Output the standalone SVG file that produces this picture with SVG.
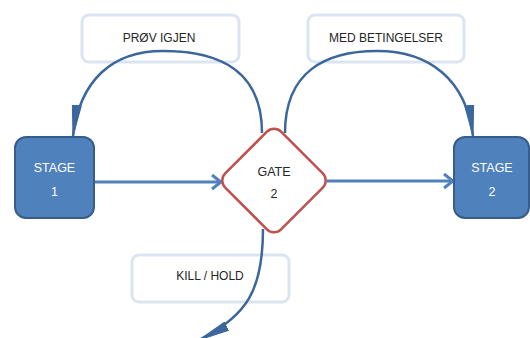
<svg xmlns="http://www.w3.org/2000/svg" width="530" height="338" viewBox="0 0 530 338">
<style>
.lbl{fill:#fff;stroke:#dbe5f1;stroke-width:3}
.lt{font-family:"Liberation Sans",Arial,sans-serif;font-size:12px;fill:#262626;text-anchor:middle}
.st{fill:#4f81bd;stroke:#385d8a;stroke-width:2}
.stt{font-family:"Liberation Sans",Arial,sans-serif;font-size:12.5px;fill:#fff;text-anchor:middle}
.gt{font-family:"Liberation Sans",Arial,sans-serif;font-size:12.5px;fill:#262626;text-anchor:middle}
.ln{fill:none;stroke:#4f81bd;stroke-width:3}
.cv{fill:none;stroke:#3b679c;stroke-width:2.5}
</style>
<defs>
<marker id="chev" markerUnits="userSpaceOnUse" markerWidth="20" markerHeight="20" refX="12" refY="8" orient="auto">
<polyline points="3,1 12,8 3,15" fill="none" stroke="#4f81bd" stroke-width="3"/>
</marker>
<marker id="tri" markerUnits="userSpaceOnUse" markerWidth="34" markerHeight="12" refX="31" refY="5.5" orient="auto">
<path d="M0,1 L31,5.5 L0,10 Z" fill="#3b679c" stroke="#3b679c" stroke-width="1"/>
</marker>
</defs>
<g id="label-prov-igjen">
<rect class="lbl" x="82" y="15" width="157" height="47" rx="7"/>
<text class="lt" x="159" y="41.5">PRØV IGJEN</text>
</g>
<g id="label-med-betingelser">
<rect class="lbl" x="308" y="15" width="156" height="47" rx="7"/>
<text class="lt" x="386" y="41.5">MED BETINGELSER</text>
</g>
<g id="label-kill-hold">
<rect class="lbl" x="132" y="255" width="157" height="47" rx="7"/>
<text class="lt" x="210" y="279.5">KILL / HOLD</text>
</g>
<g id="connectors">
<line class="ln" x1="95" y1="182" x2="221" y2="182" marker-end="url(#chev)"/>
<line class="ln" x1="327" y1="181" x2="453" y2="181" marker-end="url(#chev)"/>
<path class="cv" d="M262,133 C262,72 222,51 163,51 C112,51 80,80 73,136" marker-end="url(#tri)"/>
<path class="cv" d="M285,133 C285,72 325,51 377,51 C430,51 466,80 473,136" marker-end="url(#tri)"/>
<path class="cv" d="M263,229 C263,290 247,316 199,340" marker-end="url(#tri)"/>
</g>
<g id="stage-1">
<rect class="st" x="15" y="137" width="79" height="81" rx="11"/>
<text class="stt" x="54.5" y="172">STAGE</text>
<text class="stt" x="54.5" y="196">1</text>
</g>
<g id="gate-2">
<rect x="234.5" y="141" width="79" height="79" rx="10" fill="#fff" stroke="#c0504d" stroke-width="2.5" transform="rotate(45 274 180.5)"/>
<text class="gt" x="274" y="176">GATE</text>
<text class="gt" x="274" y="198">2</text>
</g>
<g id="stage-2">
<rect class="st" x="454" y="137" width="75" height="81" rx="11"/>
<text class="stt" x="492" y="172">STAGE</text>
<text class="stt" x="492" y="196">2</text>
</g>
</svg>
